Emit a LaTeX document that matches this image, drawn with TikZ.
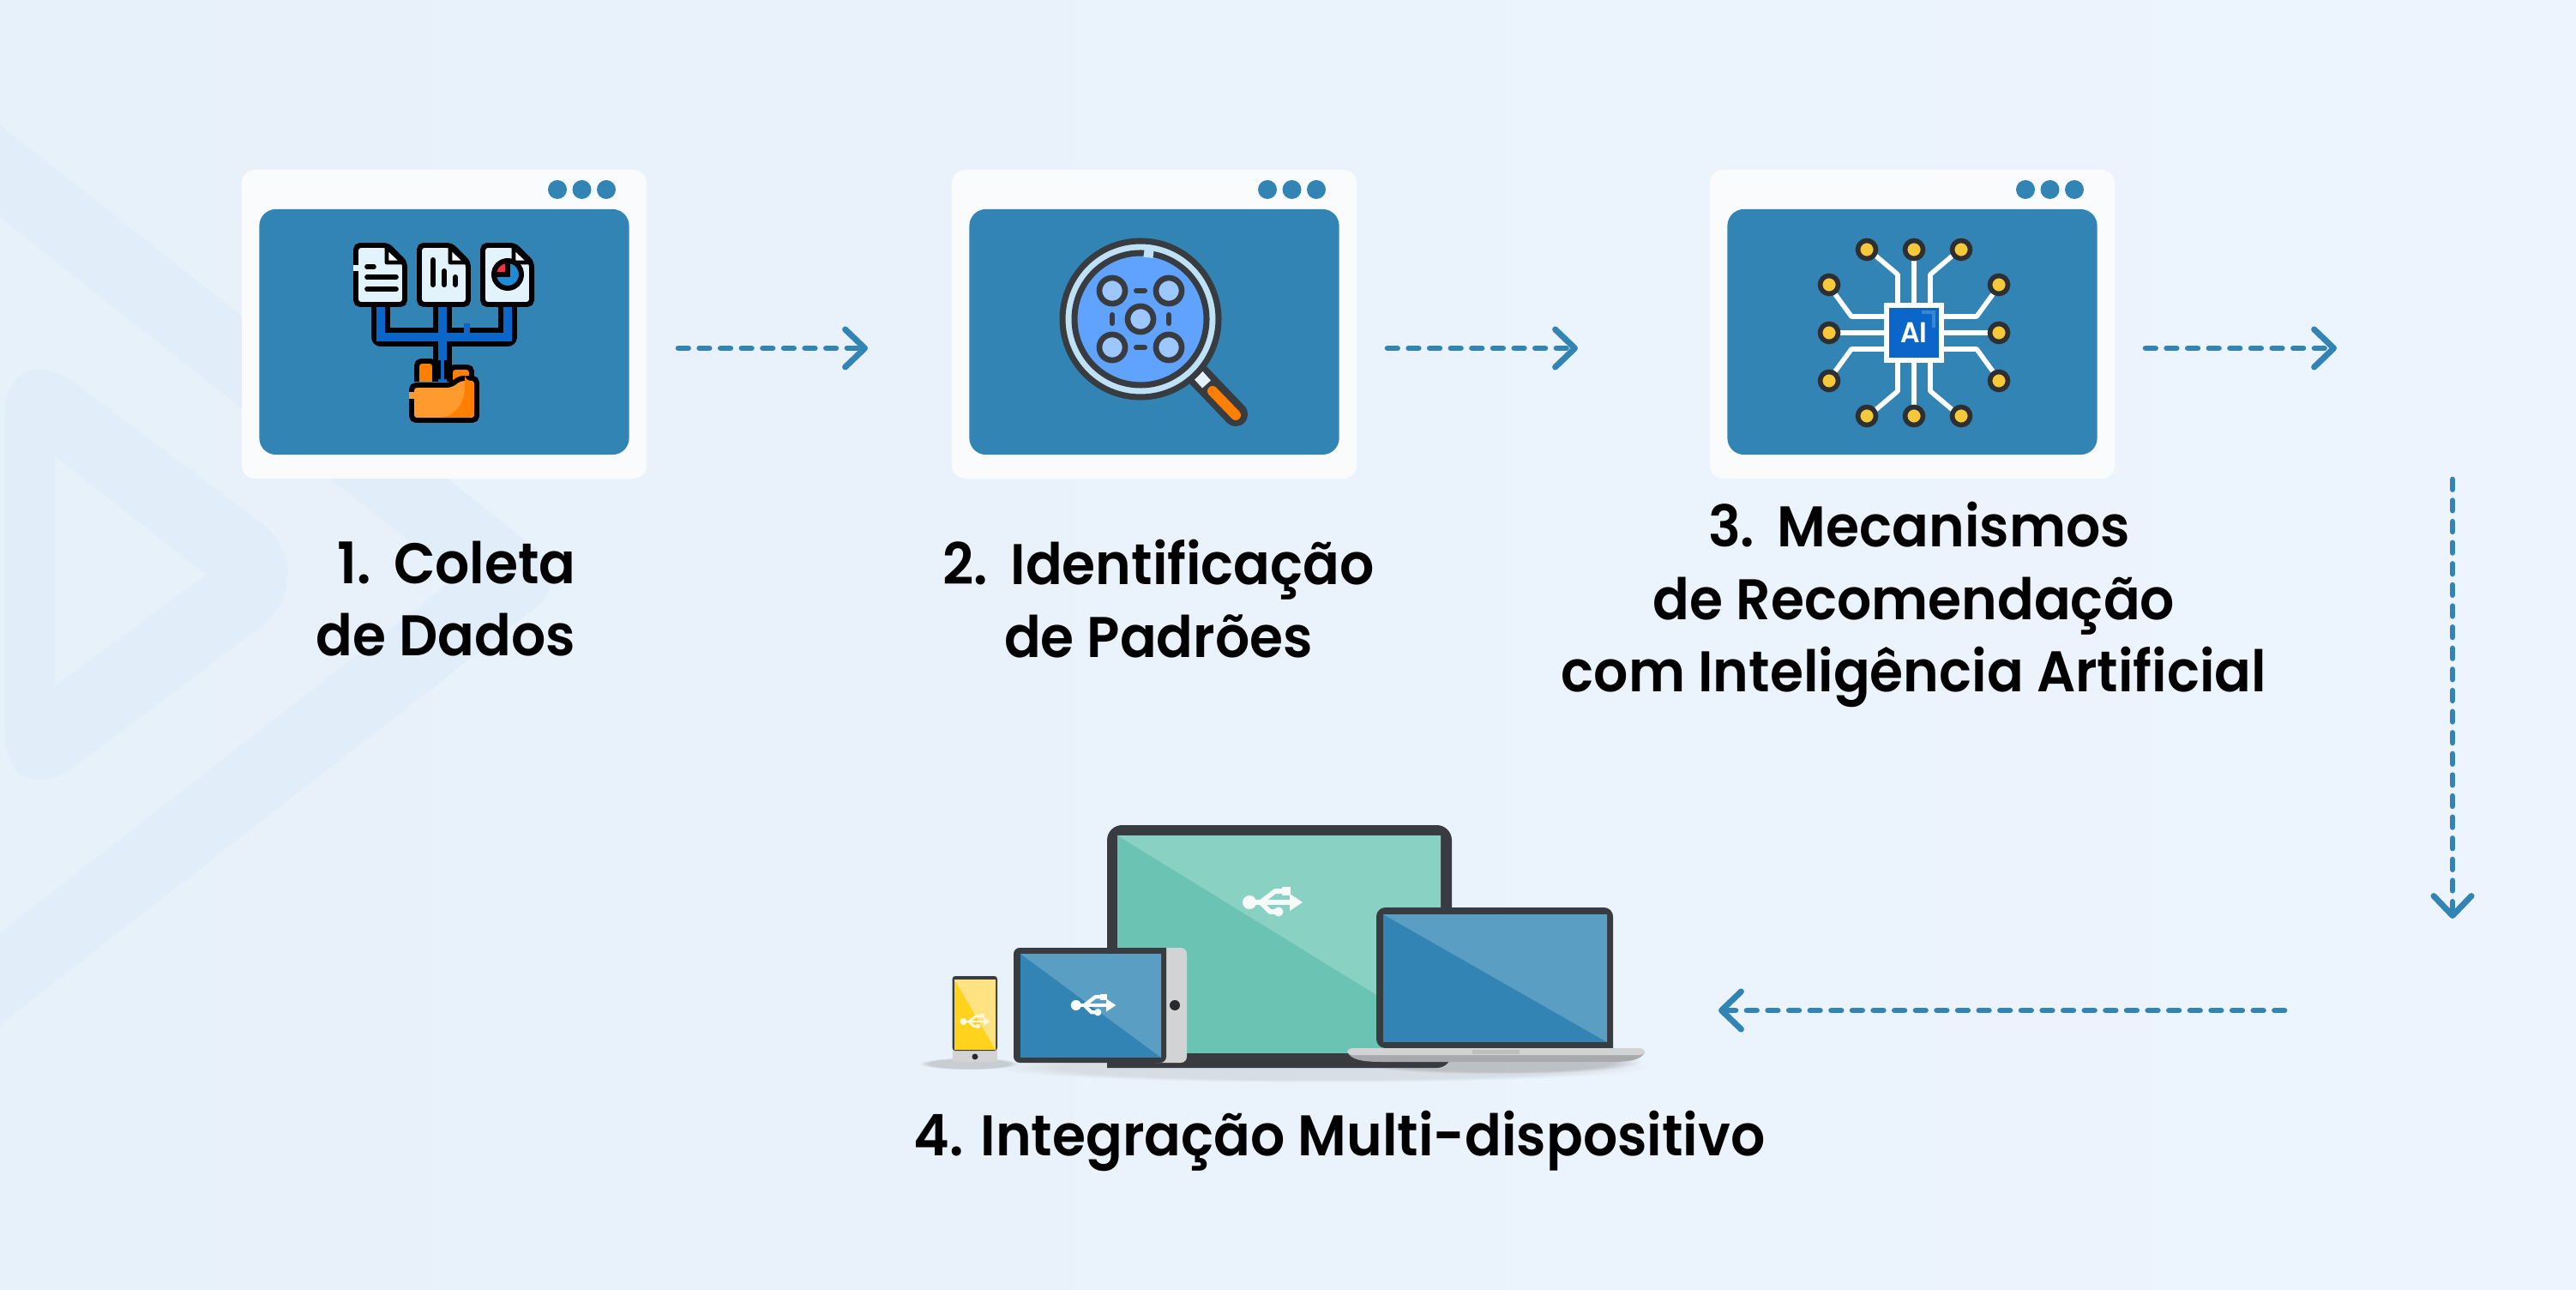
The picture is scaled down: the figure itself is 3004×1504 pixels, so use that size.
\documentclass[tikz,border=0pt]{standalone}
\usepackage{fontspec}
\setmainfont{Poppins}
\newfontfamily\stepFont[FakeStretch=0.945]{Poppins SemiBold}
\usetikzlibrary{calc,fadings}
\usetikzlibrary{arrows.meta}
\definecolor{panelBlue}{HTML}{3284B4}
\definecolor{lightBlue}{HTML}{5A9EC3}
\definecolor{pageLeft}{HTML}{E7F1FA}
\definecolor{pageRight}{HTML}{EDF4FD}
\definecolor{markBlue}{HTML}{E1EDF8}
\definecolor{inkDark}{HTML}{383B3F}
\definecolor{docPale}{HTML}{E3F3FC}
\definecolor{wireBlue}{HTML}{0A66C8}
\definecolor{folderFront}{HTML}{FF9A2E}
\definecolor{folderBack}{HTML}{FF8000}
\definecolor{lensRing}{HTML}{BFE1F5}
\definecolor{lensFill}{HTML}{5FA3FF}
\definecolor{lensDot}{HTML}{9CC7FF}
\definecolor{pinYellow}{HTML}{F5C93A}
\definecolor{screenGreen}{HTML}{6BC3B3}
\definecolor{screenPale}{HTML}{89D1C2}
\definecolor{phoneYellow}{HTML}{FFD21E}
\definecolor{phonePale}{HTML}{FFE383}
\definecolor{silverLight}{HTML}{D1D3D4}
\definecolor{silverDark}{HTML}{A7A9AC}
\tikzset{
    cardBox/.style={
    ,   fill=white!97!panelBlue
    ,   rounded corners=4.5pt
    ,   minimum width=4.72cm
    ,   minimum height=3.6cm
    ,   inner sep=0pt
    },
    panelBox/.style={
    ,   fill=panelBlue
    ,   rounded corners=5.5pt
    ,   minimum width=4.31cm
    ,   minimum height=2.86cm
    ,   inner sep=0pt
    },
    chipBox/.style={
    ,   draw=white
    ,   fill=wireBlue
    ,   line width=1.7pt
    ,   minimum size=0.64cm
    ,   inner sep=0pt
    ,   text=white
    ,   font={\stepFont\fontsize{9.5pt}{10pt}\selectfont}
    },
    stepLabel/.style={
    ,   align=center
    ,   font={\stepFont\fontsize{19pt}{24pt}\selectfont}
    ,   text=black
    },
    flowArrow/.style={
    ,   draw=panelBlue
    ,   line width=1.9pt
    ,   line cap=round
    ,   dash pattern=on 3.3pt off 3.7pt
    ,   -{Straight Barb[length=6.5pt,width=12.5pt,line width=2pt,round]}
    },
    softShadow/.style={
    ,   silverDark
    ,   opacity=#1
    ,   path fading=circle with fuzzy edge 20 percent
    },
    pics/usbIcon/.style={
        code={
            \draw[#1] (-27,0) -- (22,0);
            \draw[#1,line join=round] (-14,0) -- (3,-13) -- (14,-13);
            \draw[#1,line join=round] (-14,0) -- (-3,11) -- (6,11);
            \fill[#1] (-27,0) circle (8);
            \fill[#1] (11,-18) rectangle (21,-8);
            \fill[#1] (7,11) circle (5.5);
            \fill[#1] (20,-10) -- (35,0) -- (20,10) -- cycle;
        }
    },
}
\begin{document}
\begin{tikzpicture}[x=0.01cm,y=-0.01cm]
\useasboundingbox (0,0) rectangle (3004,1504);
\shade[left color=pageLeft,right color=pageRight] (0,0) rectangle (3004,1504);
% faint marks at the left
\draw[markBlue,line width=24pt,line join=round] (-50,160) -- (600,674) -- (-50,1180);
\fill[markBlue,rounded corners=30pt] (5,385) -- (385,670) -- (5,955) -- cycle;
\fill[pageLeft] (64,532) -- (240,670) -- (64,800) -- cycle;

\foreach \n/\cx in {1/518,2/1346,3/2230}{
    \node[cardBox] (card\n) at (\cx,378) {};
    \node[panelBox] (panel\n) at (\cx,387) {};
    \foreach \d in {0,1,2}{
        \fill[panelBlue] (\cx+132+\d*28.5,221) circle (11);
    }
}

% files and folder
\draw[black,line width=6.2pt,line join=round] (444,358) -- (444,393) -- (592,393) -- (592,358);
\draw[black,line width=6.2pt] (516,358) -- (516,445);
\draw[wireBlue,line width=2.9pt] (444,358) -- (444,393) -- (592,393) -- (592,358);
\draw[wireBlue,line width=2.9pt] (516,358) -- (516,445);
\draw[wireBlue,line width=5pt] (541,386) -- (548,386);
\foreach \k in {0,74,148}{
    \begin{scope}[shift={(\k,0)}]
        \filldraw[fill=docPale,draw=black,line width=1.7pt,rounded corners=1.5pt] (415,286) -- (452,286) -- (472,306) -- (472,355) -- (415,355) -- cycle;
        \filldraw[fill=white,draw=black,line width=1.4pt,line join=round] (451,288) -- (451,306) -- (470,306) -- cycle;
    \end{scope}
}
\fill[docPale] (412,309) rectangle (418,316);
\draw[black,line width=1.6pt,line cap=round] (428,311) -- (436,311);
\draw[black,line width=1.6pt,line cap=round] (428,323) -- (462,323);
\draw[black,line width=1.6pt,line cap=round] (428,337) -- (462,337);
\draw[black,line width=1.7pt,line cap=round] (505,303) -- (505,332);
\draw[black,line width=1.7pt,line cap=round] (518,316) -- (518,332);
\draw[black,line width=1.7pt,line cap=round] (531,323) -- (531,332);
\fill[white!10!cyan!70!blue] (592,320) circle (15);
\fill[red!70!purple!80!white] (592,320) -- (575,320) arc[start angle=180,end angle=270,radius=15] -- cycle;
\draw[black,line width=1.7pt] (592,320) circle (16);
\draw[black,line width=1.5pt] (592,304) -- (592,320) -- (576,320);
\filldraw[fill=folderBack,draw=black,line width=1.7pt,rounded corners=1.5pt] (486,445) -- (486,421) -- (507,421) -- (507,445);
\filldraw[fill=folderBack,draw=black,line width=1.7pt,rounded corners=1.5pt] (525,445) -- (525,428) -- (550,428) -- (550,445);
\draw[wireBlue,line width=2.9pt] (516,412) -- (516,442);
\draw[black,line width=1.7pt] (511,420) -- (511,442);
\draw[black,line width=1.7pt] (521,420) -- (521,442);
\filldraw[fill=folderFront,draw=black,line width=1.7pt,rounded corners=1.5pt] (480,449) -- (526,449) -- (536,441) -- (556,441) -- (556,490) -- (480,490) -- cycle;
\fill[folderBack,rounded corners=2pt] (542,444) -- (553,444) -- (553,487) -- (510,487) .. controls (530,485) and (542,470) .. cycle;
\fill[folderFront] (477,457) rectangle (483,465);

% magnifier
\draw[inkDark,line width=8pt,line cap=round] (1395,435) -- (1441,483);
\draw[docPale,line width=3.8pt] (1397,437) -- (1407,448);
\draw[folderBack,line width=3.4pt,line cap=round] (1414,456) -- (1441,484);
\filldraw[fill=lensRing,draw=inkDark,line width=2pt] (1330,372) circle (91);
\filldraw[fill=lensFill,draw=inkDark,line width=2pt] (1330,372) circle (77);
\draw[lensRing,line width=2.6pt] (1334,295) -- (1345,296.5);
\foreach \px/\py in {1297/339,1363/339,1330/372,1297/405,1363/405}{
    \filldraw[fill=lensDot,draw=inkDark,line width=1.9pt] (\px,\py) circle (15);
}
\foreach \py in {339,405}{
    \draw[inkDark,line width=1.7pt,line cap=round] (1325,\py) -- (1335,\py);
}
\foreach \px in {1297,1363}{
    \draw[inkDark,line width=1.7pt,line cap=round] (\px,367) -- (\px,377);
}

% chip
\begin{scope}[shift={(2232,388)}]
    \foreach \sx in {-1,1}{
        \draw[white,line width=1.6pt] (35*\sx,0) -- (92*\sx,0);
        \draw[white,line width=1.6pt] (0,33*\sx) -- (0,92*\sx);
        \foreach \sy in {-1,1}{
            \draw[white,line width=1.6pt,line join=round] (19*\sx,33*\sy) -- (19*\sx,68*\sy) -- (45*\sx,90*\sy);
            \draw[white,line width=1.6pt,line join=round] (35*\sx,19*\sy) -- (73*\sx,19*\sy) -- (92*\sx,45*\sy);
            \filldraw[fill=pinYellow,draw=inkDark!80!black,line width=1.6pt] (55*\sx,97*\sy) circle (10.5);
            \filldraw[fill=pinYellow,draw=inkDark!80!black,line width=1.6pt] (99*\sx,56*\sy) circle (10.5);
        }
        \filldraw[fill=pinYellow,draw=inkDark!80!black,line width=1.6pt] (0,97*\sx) circle (10.5);
        \filldraw[fill=pinYellow,draw=inkDark!80!black,line width=1.6pt] (99*\sx,0) circle (10.5);
    }
\end{scope}
\node[chipBox] (chip) at (2232,388) {AI};
\draw[wireBlue!80!white,line width=.9pt] (2241,364) -- (2255,364) -- (2255,382);

% devices
\fill[softShadow=.28] (1540,1244) ellipse (380 and 18);
\fill[softShadow=.55] (1745,1238) ellipse (170 and 14);
\fill[softShadow=.5] (1130,1240) ellipse (58 and 7);
\fill[inkDark] (1291,1245) [rounded corners=5pt] -- (1291,962) -- (1693,962) -- (1693,1245) [sharp corners] -- cycle;
\fill[screenGreen] (1303,974) rectangle (1680,1228);
\fill[screenPale] (1303,974) -- (1680,974) -- (1680,1206) -- cycle;
\pic[line width=1.6pt] at (1484,1052) {usbIcon={white!92!screenPale}};

\fill[silverLight,rounded corners=2pt] (1340,1105) rectangle (1384,1239);
\fill[inkDark] (1360,1105) [rounded corners=2pt] -- (1182,1105) -- (1182,1239) -- (1360,1239) [sharp corners] -- cycle;
\fill[panelBlue] (1190,1112) rectangle (1354,1233);
\fill[lightBlue] (1190,1112) -- (1354,1112) -- (1354,1233) -- cycle;
\fill[inkDark!70!black] (1370,1172) circle (6);
\pic[scale=.75,line width=1.2pt] at (1275,1172) {usbIcon={white}};

\fill[silverLight] (1110.5,1222) rectangle (1163,1238);
\fill[inkDark,rounded corners=1pt] (1110.5,1138) rectangle (1163,1225);
\fill[phoneYellow] (1113,1142) rectangle (1161,1224);
\fill[phonePale] (1113,1142) -- (1161,1142) -- (1161,1224) -- cycle;
\fill[inkDark!70!black] (1137,1232) circle (3.5);
\pic[scale=.5,line width=.8pt] at (1137,1191) {usbIcon={white!75!phonePale}};

\fill[inkDark] (1881,1222) [rounded corners=3pt] -- (1881,1058) -- (1605,1058) -- (1605,1222) [sharp corners] -- cycle;
\fill[panelBlue] (1613,1066) rectangle (1874,1215);
\fill[lightBlue] (1613,1066) -- (1874,1066) -- (1874,1215) -- cycle;
\fill[silverDark] (1571,1226) .. controls (1575,1236) and (1590,1238) .. (1612,1238) -- (1878,1238) .. controls (1900,1238) and (1915,1236) .. (1918,1226) -- cycle;
\fill[silverLight,rounded corners=1.5pt] (1571,1222) rectangle (1918,1230);
\fill[silverDark!50!silverLight] (1717,1224) rectangle (1772,1229);

% step labels
\node[stepLabel] (label1) at (520,698) {\hspace*{.25cm}1. \hspace{.1em}Coleta\\de Dados};
\node[stepLabel] (label2) at (1351,698) {2. \hspace{.1em}Identificação\\de Padrões};
\node[stepLabel] (label3) at (2232,705) {\hspace*{.12cm}3. \hspace{.1em}Mecanismos\\de Recomendação\hspace*{.3cm}\\com Inteligência Artificial};
\node[stepLabel] (label4) at (1562,1330) {4. Integração Multi-dispositivo};

% connectors
\coordinate (flowA) at (791,406);
\coordinate (flowB) at (1012,406);
\coordinate (flowC) at (1618,406);
\coordinate (flowD) at (1840,406);
\coordinate (flowE) at (2502,406);
\coordinate (flowF) at (2725,406);
\coordinate (flowG) at (2860,559);
\coordinate (flowH) at (2860,1071);
\coordinate (flowI) at (2664,1178);
\coordinate (flowJ) at (2004,1178);
\draw[flowArrow] (flowA) -- (flowB);
\draw[flowArrow] (flowC) -- (flowD);
\draw[flowArrow] (flowE) -- (flowF);
\draw[flowArrow] (flowG) -- (flowH);
\draw[flowArrow] (flowI) -- (flowJ);
\end{tikzpicture}
\end{document}
